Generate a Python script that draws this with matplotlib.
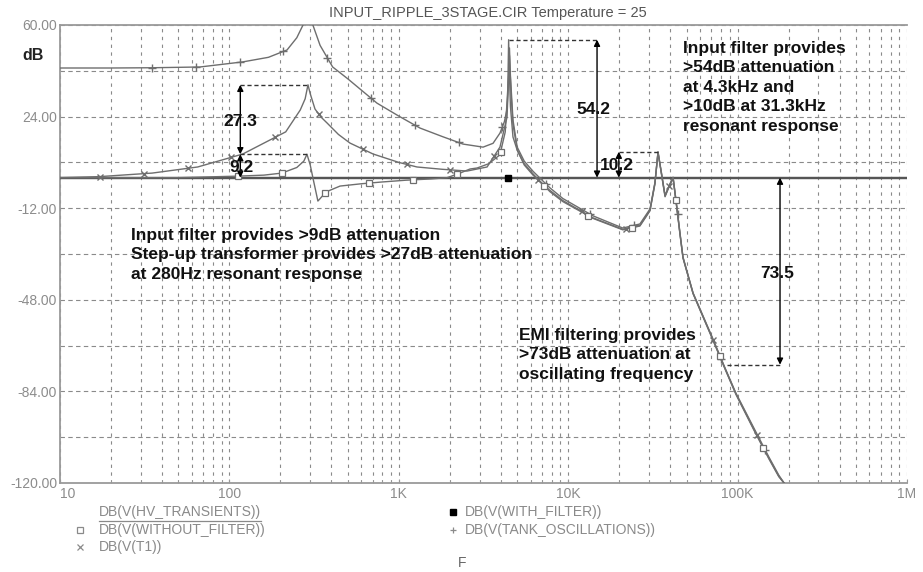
import numpy as np
import matplotlib
matplotlib.use("Agg")
import matplotlib.pyplot as plt
from matplotlib.lines import Line2D

# ---------------- data ----------------
title = "INPUT_RIPPLE_3STAGE.CIR Temperature = 25"
x_ticks = [10, 100, 1e3, 1e4, 1e5, 1e6]
x_tick_labels = ["10", "100", "1K", "10K", "100K", "1M"]
y_ticks = [60, 24, -12, -48, -84, -120]
y_tick_labels = ["60.00", "24.00", "-12.00", "-48.00", "-84.00", "-120.00"]

hv_f = [10, 1e6]
hv_db = [0.0, 0.0]

wf_f = [10, 4400, 1e6]
wf_db = [0.0, 0.0, 0.0]

tank_f = [10, 20, 35, 67, 120, 170, 219, 250, 272, 290, 311, 343, 407, 501, 743,
          1000, 1334, 1800, 2393, 3143, 3600, 3954, 4200, 4355, 4450, 4500, 4560,
          4720, 5000, 5500, 6200, 7800, 9300, 14000, 21000, 26500, 30400, 32500,
          33900, 35500, 37300, 39500, 41600, 43500, 45700, 47600, 54600, 70000,
          84300, 97800, 125000, 153000, 175000, 188000]
tank_db = [43.1, 43.1, 43.2, 43.5, 45.5, 47.3, 50.2, 55.0, 60.0, 68.0, 60.0, 52.0,
           43.5, 38.8, 29.3, 24.2, 19.5, 16.2, 13.2, 12.0, 13.5, 17.5, 22.0, 27.0,
           40.0, 51.0, 40.0, 22.7, 12.0, 6.5, 2.5, -4.0, -8.2, -15.0, -19.8, -18.2,
           -12.3, -2.0, 10.0, 2.0, -7.0, -3.0, 0.2, -10.0, -21.8, -31.2, -45.3,
           -61.9, -74.8, -84.7, -98.5, -109.8, -116.9, -120.0]

t1_f = [10, 17, 35, 65, 120, 170, 215, 262, 280, 291, 300, 320, 345, 377, 440,
        515, 705, 1000, 1280, 1800, 2530, 3320, 3954, 4355, 4500, 4600, 4720, 5000,
        5500, 6200, 7800, 9300, 14000, 21000, 26500, 30400, 32500, 33900, 35500,
        37300, 39500, 41600, 43500, 45700, 47600, 54600, 70000, 84300, 97800,
        125000, 153000, 175000, 188000]
t1_db = [0.0, 0.4, 1.8, 4.2, 9.3, 14.5, 18.0, 26.6, 31.0, 36.5, 33.0, 27.0, 24.0,
         21.5, 17.0, 13.6, 9.3, 6.0, 4.2, 3.3, 2.6, 4.2, 12.0, 23.8, 48.0, 33.0,
         21.0, 10.9, 5.0, 1.0, -5.0, -9.0, -15.8, -20.3, -18.8, -12.8, -2.2, 9.8,
         1.8, -7.2, -3.2, 0.0, -10.2, -22.0, -31.4, -45.5, -62.2, -75.0, -85.0,
         -99.0, -110.2, -117.3, -120.0]

wo_f = [10, 50, 112, 160, 204, 250, 275, 287, 300, 311, 333, 372, 450, 600, 795,
        1100, 1550, 1928, 2300, 2630, 2900, 3400, 3954, 4250, 4400, 4450, 4500,
        4560, 4720, 5000, 5500, 6200, 7800, 9300, 14000, 21000, 26500, 30400,
        32500, 33900, 35500, 37300, 39500, 41600, 43500, 45700, 47600, 54600,
        70000, 84300, 97800, 125000, 153000, 175000, 188000]
wo_db = [0.0, 0.0, 0.6, 1.0, 1.8, 4.0, 6.5, 9.2, 5.0, 0.0, -9.2, -5.6, -3.3, -2.4,
         -1.7, -1.0, -0.5, 0.0, 1.8, 3.4, 3.8, 5.5, 9.0, 18.0, 35.0, 54.2, 40.0,
         28.0, 16.0, 10.8, 5.5, 1.5, -5.5, -9.4, -16.0, -20.5, -19.0, -13.0, -2.5,
         10.2, 1.5, -7.5, -3.4, -0.2, -10.5, -22.3, -31.6, -45.6, -62.4, -75.2,
         -85.2, -99.3, -110.5, -117.5, -120.0]

legend_labels = ["DB(V(HV_TRANSIENTS))", "DB(V(WITHOUT_FILTER))", "DB(V(T1))",
                 "DB(V(WITH_FILTER))", "DB(V(TANK_OSCILLATIONS))"]

# annotation values
ann_peak_t1 = 36.5
ann_peak_wo = 9.2
ann_4k3 = 54.2
ann_31k = 10.2
ann_emi = -73.5

# ---------------- figure ----------------
W, H = 923, 572
fig = plt.figure(figsize=(W / 100, H / 100), dpi=100)
fig.patch.set_facecolor("white")

def P(x, y):
    return (x / W, 1 - y / H)

L, R, T, B = 60, 907, 25, 483
ax = fig.add_axes([L / W, 1 - B / H, (R - L) / W, (B - T) / H])
ax.set_xscale("log")
ax.set_xlim(10, 1e6)
ax.set_ylim(-120, 60)

font = ["Liberation Sans", "DejaVu Sans"]
tick_col = "#8c8c8c"
curve_col = "#6e6e6e"

# grid
ygrid = np.arange(-120, 61, 18)
ax.set_yticks(ygrid)
ax.set_yticklabels([y_tick_labels[y_ticks.index(v)] if v in y_ticks else "" for v in ygrid],
                   fontsize=10, color=tick_col, family=font)
ax.set_xticks(x_ticks)
ax.set_xticklabels(x_tick_labels, fontsize=10, color=tick_col, family=font)
ax.xaxis.set_minor_locator(matplotlib.ticker.LogLocator(base=10, subs=np.arange(2, 10)))
ax.xaxis.set_minor_formatter(matplotlib.ticker.NullFormatter())
ax.tick_params(axis="y", length=0, pad=2)
ax.tick_params(axis="x", which="major", length=3, direction="in", color="#999999", pad=3)
ax.tick_params(axis="x", which="minor", length=2, direction="in", color="#999999")
ax.get_xticklabels()[0].set_ha("left")
ax.grid(True, which="both", axis="x", color="#8a8a8a", lw=0.8, ls=(0, (3, 4)))
ax.grid(True, which="major", axis="y", color="#8a8a8a", lw=0.8, ls=(0, (4, 3)))
for s in ax.spines.values():
    s.set_color("#9a9a9a")
    s.set_linewidth(1.3)
ax.spines["right"].set_visible(False)

# marker placement: regular spacing in log-frequency
def markers_at(f, db, f0, step=0.2586):
    lf = np.log10(f)
    lm = np.arange(np.log10(f0), lf[-1], step)
    return 10 ** lm, np.interp(lm, lf, db)

# curves
ax.plot(hv_f, hv_db, color="#555555", lw=1.6, zorder=3)
ax.plot(wf_f, wf_db, color="#555555", lw=1.6, marker="s", ms=4, mfc="black", mec="black",
        markevery=[1], zorder=3)
for f, db, f0, mstyle in [
        (tank_f, tank_db, 34.9, dict(marker="+", ms=5.5, mew=1.0, mec=curve_col)),
        (t1_f, t1_db, 17.2, dict(marker="x", ms=4, mew=1.0, mec=curve_col)),
        (wo_f, wo_db, 112, dict(marker="s", ms=4.5, mfc="white", mec=curve_col, mew=0.9))]:
    ax.plot(f, db, color=curve_col, lw=1.0, zorder=4)
    mf, mdb = markers_at(f, db, f0)
    ax.plot(mf, mdb, ls="none", zorder=4.5, **mstyle)

# annotation guides
ann = dict(arrowstyle="<|-|>", color="black", lw=1.0, mutation_scale=9,
           shrinkA=0, shrinkB=0)
dash = dict(color="#333333", lw=1.0, ls=(0, (3, 2)), zorder=5)
fx = 116
ax.hlines(ann_peak_t1, fx, 291, **dash)
ax.hlines(ann_peak_wo, fx, 287, **dash)
ax.annotate("", xy=(fx, ann_peak_t1), xytext=(fx, ann_peak_wo), arrowprops=ann, zorder=6)
ax.annotate("", xy=(fx, ann_peak_wo), xytext=(fx, 0), arrowprops=ann, zorder=6)
f54 = 14800
ax.hlines(ann_4k3, 4500, f54, **dash)
ax.annotate("", xy=(f54, ann_4k3), xytext=(f54, 0), arrowprops=ann, zorder=6)
f10 = 19900
ax.hlines(ann_31k, f10, 33900, **dash)
ax.annotate("", xy=(f10, ann_31k), xytext=(f10, 0), arrowprops=ann, zorder=6)
f73 = 178000
ax.hlines(ann_emi, 86500, f73, **dash)
ax.annotate("", xy=(f73, 0), xytext=(f73, ann_emi), arrowprops=ann, zorder=6)

bold = dict(fontsize=12.5, fontweight="bold", color="#111111", family=font, zorder=7)
ax.text(fx, 21.9, "27.3", ha="center", va="center", **bold)
ax.text(fx * 1.02, 3.8, "9.2", ha="center", va="center", **bold)
ax.text(14000, 26.6, "54.2", ha="center", va="center", **bold)
ax.text(19500, 4.6, "10.2", ha="center", va="center", **bold)
ax.text(171000, -37.5, "73.5", ha="center", va="center", **bold)

blk = dict(fontsize=12.5, fontweight="bold", color="#111111", family=font,
           linespacing=1.37, ha="left", va="top")
fig.text(*P(683, 41), "Input filter provides\n>54dB attenuation\nat 4.3kHz and\n>10dB at 31.3kHz\nresonant response", **blk)
fig.text(*P(131, 228), "Input filter provides >9dB attenuation\nStep-up transformer provides >27dB attenuation\nat 280Hz resonant response", **blk)
fig.text(*P(519, 328), "EMI filtering provides\n>73dB attenuation at\noscillating frequency", **blk)

# title and labels
fig.text(*P(488, 13), title, ha="center", va="center", fontsize=10.5, color="#555555", family=font)
fig.text(*P(33, 55), "dB", ha="center", va="center", fontsize=11.5, fontweight="bold", color="#222222", family=font)
fig.text(*P(462, 563), "F", ha="center", va="center", fontsize=10, color="#666666", family=font)

# legend
leg_col = "#8a8a8a"
lg = dict(fontsize=10, color=leg_col, family=font, va="center", ha="left")
rows = [(99, 512), (99, 530), (99, 547), (465, 512), (465, 530)]
mk = [None,
      dict(marker="s", ms=4, mfc="white", mec=leg_col, mew=0.9),
      dict(marker="x", ms=4, mec=leg_col, mew=0.9),
      dict(marker="s", ms=4, mfc="black", mec="black"),
      dict(marker="+", ms=5, mec=leg_col, mew=0.9)]
first = None
for (x, y), lab, m in zip(rows, legend_labels, mk):
    t = fig.text(*P(x, y), lab, **lg)
    if first is None:
        first = t
    if m is not None:
        mx = 80 if x < 300 else 453
        fig.add_artist(Line2D([P(mx, y)[0]], [P(mx, y)[1]], transform=fig.transFigure,
                              ls="none", **m))
# underline first legend label
fig.canvas.draw()
bb = first.get_window_extent()
x0, x1 = bb.x0 / W, bb.x1 / W
yu = 1 - 521 / H
fig.add_artist(Line2D([x0, x1], [yu, yu], transform=fig.transFigure, color=leg_col, lw=0.9))

fig.savefig("out.png", dpi=100)
